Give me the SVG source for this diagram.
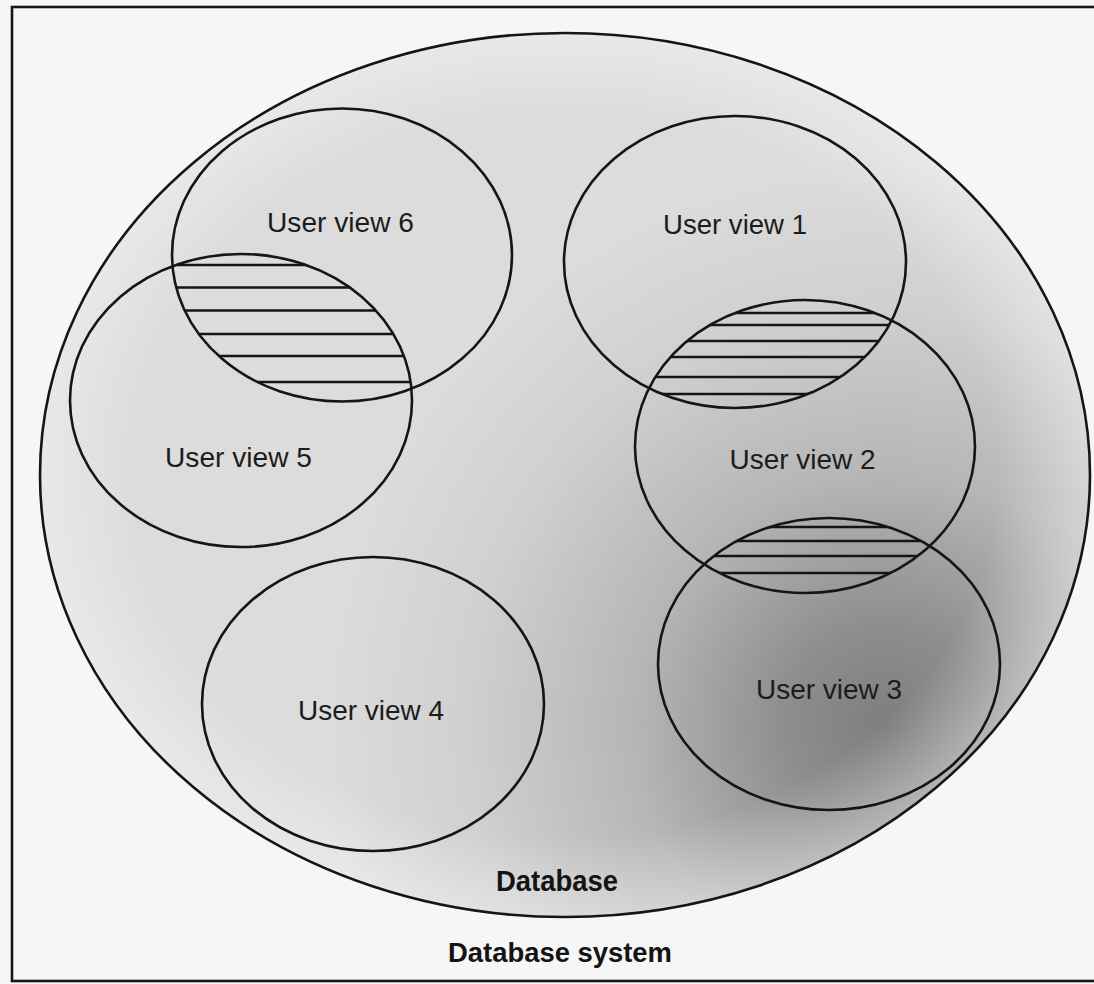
<svg xmlns="http://www.w3.org/2000/svg" width="1094" height="984" viewBox="0 0 1094 984">
  <style>
    .view { fill: none; stroke: #151515; stroke-width: 2.6; }
    .hatch line { stroke: #151515; stroke-width: 2.6; }
    .lbl { font-family: "Liberation Sans", Arial, sans-serif; font-size: 28px; fill: #1c1c1c; text-anchor: middle; }
    .bold { font-family: "Liberation Sans", Arial, sans-serif; font-weight: bold; fill: #141414; text-anchor: middle; }
  </style>
  <defs>
    <radialGradient id="shade" gradientUnits="userSpaceOnUse" cx="885" cy="725" r="560">
      <stop offset="0" stop-color="#7e7e7e"/>
      <stop offset="0.18" stop-color="#8e8e8e"/>
      <stop offset="0.45" stop-color="#b6b6b6"/>
      <stop offset="0.75" stop-color="#d0d0d0"/>
      <stop offset="1" stop-color="#dcdcdc"/>
    </radialGradient>
    <radialGradient id="rim" cx="0.5" cy="0.5" r="0.5">
      <stop offset="0.82" stop-color="#ffffff" stop-opacity="0"/>
      <stop offset="1" stop-color="#ffffff" stop-opacity="0.35"/>
    </radialGradient>
    <clipPath id="c1"><ellipse cx="735" cy="262" rx="171" ry="146"/></clipPath>
    <clipPath id="c2"><ellipse cx="805" cy="446.5" rx="170" ry="146.5"/></clipPath>
    <clipPath id="c3"><ellipse cx="829" cy="664" rx="171" ry="146"/></clipPath>
    <clipPath id="c5"><ellipse cx="241" cy="400.5" rx="171" ry="146.5"/></clipPath>
    <clipPath id="c6"><ellipse cx="342" cy="255" rx="170" ry="146.5"/></clipPath>
  </defs>

  <rect x="0" y="0" width="1094" height="984" fill="#f6f6f6"/>
  <rect id="system-frame" x="12" y="7" width="1095" height="974" fill="none" stroke="#151515" stroke-width="2.6"/>

  <g id="database">
    <ellipse cx="565" cy="475" rx="525" ry="442" fill="url(#shade)"/>
    <ellipse cx="565" cy="475" rx="525" ry="442" fill="url(#rim)" stroke="#151515" stroke-width="2.6"/>
    <text class="bold" x="557" y="891" font-size="29" textLength="122" lengthAdjust="spacingAndGlyphs">Database</text>
  </g>

  <g id="connectors"></g>

  <g id="overlaps" class="hatch">
    <g clip-path="url(#c6)"><g clip-path="url(#c5)">
      <line x1="150" y1="265" x2="450" y2="265"/>
      <line x1="150" y1="287.5" x2="450" y2="287.5"/>
      <line x1="150" y1="310.5" x2="450" y2="310.5"/>
      <line x1="150" y1="334" x2="450" y2="334"/>
      <line x1="150" y1="356" x2="450" y2="356"/>
      <line x1="150" y1="382" x2="450" y2="382"/>
    </g></g>
    <g clip-path="url(#c1)"><g clip-path="url(#c2)">
      <line x1="620" y1="313" x2="920" y2="313"/>
      <line x1="620" y1="325" x2="920" y2="325"/>
      <line x1="620" y1="341" x2="920" y2="341"/>
      <line x1="620" y1="357" x2="920" y2="357"/>
      <line x1="620" y1="377" x2="920" y2="377"/>
      <line x1="620" y1="394" x2="920" y2="394"/>
    </g></g>
    <g clip-path="url(#c2)"><g clip-path="url(#c3)">
      <line x1="700" y1="527" x2="960" y2="527"/>
      <line x1="700" y1="541" x2="960" y2="541"/>
      <line x1="700" y1="556" x2="960" y2="556"/>
      <line x1="700" y1="573" x2="960" y2="573"/>
    </g></g>
  </g>

  <g id="user-view-1">
    <ellipse class="view" cx="735" cy="262" rx="171" ry="146"/>
    <text class="lbl" x="735" y="234" textLength="144" lengthAdjust="spacingAndGlyphs">User view 1</text>
  </g>
  <g id="user-view-2">
    <ellipse class="view" cx="805" cy="446.5" rx="170" ry="146.5"/>
    <text class="lbl" x="802.5" y="469" textLength="146" lengthAdjust="spacingAndGlyphs">User view 2</text>
  </g>
  <g id="user-view-3">
    <ellipse class="view" cx="829" cy="664" rx="171" ry="146"/>
    <text class="lbl" x="829" y="698.5" textLength="146" lengthAdjust="spacingAndGlyphs">User view 3</text>
  </g>
  <g id="user-view-4">
    <ellipse class="view" cx="373" cy="704" rx="171" ry="147"/>
    <text class="lbl" x="371" y="720" textLength="146" lengthAdjust="spacingAndGlyphs">User view 4</text>
  </g>
  <g id="user-view-5">
    <ellipse class="view" cx="241" cy="400.5" rx="171" ry="146.5"/>
    <text class="lbl" x="238.5" y="467" textLength="147" lengthAdjust="spacingAndGlyphs">User view 5</text>
  </g>
  <g id="user-view-6">
    <ellipse class="view" cx="342" cy="255" rx="170" ry="146.5"/>
    <text class="lbl" x="340.5" y="232" textLength="147" lengthAdjust="spacingAndGlyphs">User view 6</text>
  </g>

  <g id="system-label">
    <text class="bold" x="560" y="962" font-size="27" textLength="224" lengthAdjust="spacingAndGlyphs">Database system</text>
  </g>
</svg>
